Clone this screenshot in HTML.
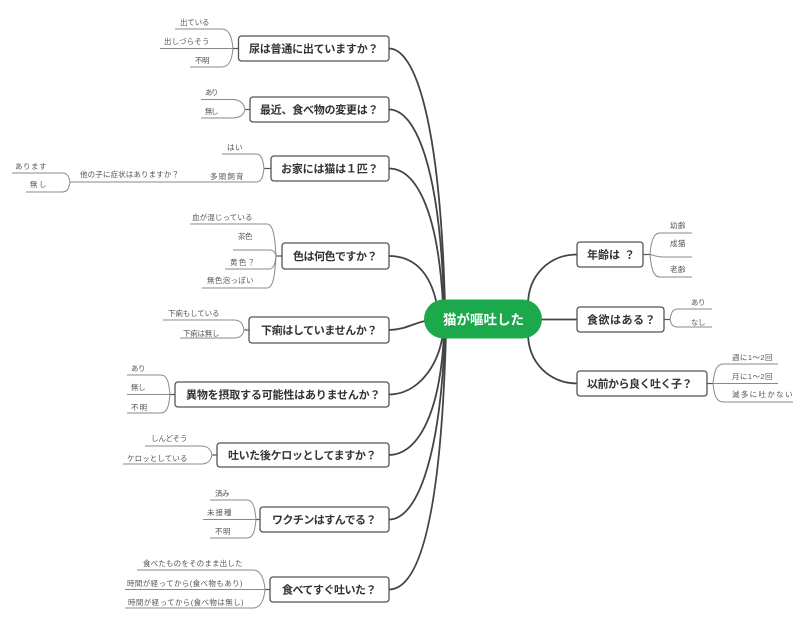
<!DOCTYPE html>
<html>
<head>
<meta charset="utf-8">
<style>
html,body{margin:0;padding:0;background:#fff;}
svg{display:block;}
.bt{font-family:"Liberation Sans","Noto Sans CJK JP",sans-serif;font-size:11px;font-weight:bold;fill:#333;}
.lt{font-family:"Liberation Sans","Noto Sans CJK JP",sans-serif;font-size:7.5px;fill:#555;}
.box{fill:#fff;stroke:#555;stroke-width:1.3;}
.mc{fill:none;stroke:#444;stroke-width:1.8;}
.st{fill:none;stroke:#555;stroke-width:1.2;}
.lf{fill:none;stroke:#8a8a8a;stroke-width:1;}
</style>
</head>
<body>
<svg width="800" height="621" viewBox="0 0 800 621" xmlns="http://www.w3.org/2000/svg">
<rect width="800" height="621" fill="#fff"/>

<!-- main connectors left top -->
<path class="mc" d="M389,48.5 C415,48.5 440,120 445,305"/>
<path class="mc" d="M389,109.5 C415,109.5 440,165 444,305"/>
<path class="mc" d="M389,168.5 C415,168.5 438,208 443,305"/>
<path class="mc" d="M389,256 C412,256 430,270 437,305"/>
<path class="mc" d="M389,330 C405,330 415,322 430,320"/>
<!-- main connectors left bottom -->
<path class="mc" d="M389,394.5 C415,394.5 438,370 443,333"/>
<path class="mc" d="M389,455 C415,455 440,420 444,333"/>
<path class="mc" d="M389,519.5 C415,519.5 440,465 445,333"/>
<path class="mc" d="M389,589.5 C420,589.5 441,515 446,333"/>
<!-- main connectors right -->
<path class="mc" d="M528,305 C528,274.6 550,254.5 577,254.5"/>
<path class="mc" d="M535,319.5 L577,319.5"/>
<path class="mc" d="M528,333 C528,363 550,383.5 577,383.5"/>

<!-- center -->
<rect x="424" y="299.5" width="118" height="39" rx="19.5" fill="#1ba94c"/>
<text x="443" y="324.5" font-family="Liberation Sans,Noto Sans CJK JP,sans-serif" font-size="13.5" font-weight="bold" fill="#fff" textLength="81" lengthAdjust="spacing">猫が嘔吐した</text>

<!-- boxes left -->
<rect class="box" x="238.5" y="36" width="150.5" height="25" rx="3"/>
<text class="bt" x="249" y="52.5" textLength="129.5" lengthAdjust="spacing">尿は普通に出ていますか？</text>
<rect class="box" x="250" y="97" width="139" height="25" rx="3"/>
<text class="bt" x="260" y="113.5" textLength="118.5" lengthAdjust="spacing">最近、食べ物の変更は？</text>
<rect class="box" x="271" y="156" width="118" height="25" rx="3"/>
<text class="bt" x="281" y="172.5" textLength="97.5" lengthAdjust="spacing">お家には猫は１匹？</text>
<rect class="box" x="282" y="243" width="107" height="26" rx="3"/>
<text class="bt" x="293" y="260" textLength="84.5" lengthAdjust="spacing">色は何色ですか？</text>
<rect class="box" x="249" y="317" width="140" height="26" rx="3"/>
<text class="bt" x="261" y="334" textLength="116.5" lengthAdjust="spacing">下痢はしていませんか？</text>
<rect class="box" x="175" y="382" width="214" height="25" rx="3"/>
<text class="bt" x="186" y="398.5" textLength="194.5" lengthAdjust="spacing">異物を摂取する可能性はありませんか？</text>
<rect class="box" x="217" y="443" width="172" height="24" rx="3"/>
<text class="bt" x="228" y="459" textLength="148.5" lengthAdjust="spacing">吐いた後ケロッとしてますか？</text>
<rect class="box" x="260" y="507" width="129" height="25" rx="3"/>
<text class="bt" x="272" y="523.5" textLength="104.5" lengthAdjust="spacing">ワクチンはすんでる？</text>
<rect class="box" x="270" y="577" width="119" height="25" rx="3"/>
<text class="bt" x="282" y="593.5" textLength="94.5" lengthAdjust="spacing">食べてすぐ吐いた？</text>

<!-- boxes right -->
<rect class="box" x="577" y="242" width="66" height="25" rx="3"/>
<text class="bt" x="587" y="258.5">年齢は</text>
<text class="bt" x="624" y="258.5">？</text>
<rect class="box" x="577" y="307" width="87" height="25" rx="3"/>
<text class="bt" x="587" y="323.5" textLength="68.5" lengthAdjust="spacing">食欲はある？</text>
<rect class="box" x="577" y="371" width="130" height="25" rx="3"/>
<text class="bt" x="587" y="387.5" textLength="105.5" lengthAdjust="spacing">以前から良く吐く子？</text>

<!-- ===== leaves: 尿 ===== -->
<path class="st" d="M233,48.5 L238.5,48.5"/>
<path class="lf" d="M175,29 L222,29 C229.5,29 232,37.8 233,48.5"/>
<path class="lf" d="M160,48.5 L233,48.5"/>
<path class="lf" d="M190,67 L222,67 C229.5,67 232,58.7 233,48.5"/>
<text class="lt" x="180" y="24.8" textLength="29.5" lengthAdjust="spacing">出ている</text>
<text class="lt" x="164" y="43.8" textLength="45.5" lengthAdjust="spacing">出しづらそう</text>
<text class="lt" x="195" y="62.8" textLength="14.5" lengthAdjust="spacing">不明</text>

<!-- 最近 -->
<path class="st" d="M245,109.5 L250,109.5"/>
<path class="lf" d="M201,99.5 L232,99.5 C240.5,99.5 244,104 245,109.5"/>
<path class="lf" d="M201,118 L232,118 C240.5,118 244,114.2 245,109.5"/>
<text class="lt" x="205" y="94.8" textLength="13.5" lengthAdjust="spacing">あり</text>
<text class="lt" x="205" y="113.8" textLength="13.5" lengthAdjust="spacing">無し</text>

<!-- お家 -->
<path class="st" d="M264,168.5 L271,168.5"/>
<path class="lf" d="M222,154 L256,154 C262,154 263,160.5 264,168.5"/>
<path class="lf" d="M70,182 L256,182 C262,182 263,175.9 264,168.5"/>
<path class="lf" d="M12,173 L62,173 C68,173 69,177 70,182"/>
<path class="lf" d="M26,192 L62,192 C68,192 69,187.5 70,182"/>
<text class="lt" x="227" y="149.8" textLength="15.5" lengthAdjust="spacing">はい</text>
<text class="lt" x="210" y="178.8" textLength="33.5" lengthAdjust="spacing">多頭飼育</text>
<text class="lt" x="80" y="176.8" textLength="99" lengthAdjust="spacing">他の子に症状はありますか？</text>
<text class="lt" x="15" y="168.8" textLength="31.5" lengthAdjust="spacing">あります</text>
<text class="lt" x="30" y="186.8" textLength="16.5" lengthAdjust="spacing">無し</text>

<!-- 色 -->
<path class="st" d="M276,256 L282,256"/>
<path class="lf" d="M190,224 L267,224 C273.5,224 275,238.4 276,256"/>
<path class="lf" d="M233,250 L269,250 C274.5,250 275,252.7 276,256"/>
<path class="lf" d="M225,269 L269,269 C274.5,269 275,263.2 276,256"/>
<path class="lf" d="M202,288 L267,288 C273.5,288 275,273.6 276,256"/>
<text class="lt" x="192" y="219.8" textLength="60.5" lengthAdjust="spacing">血が混じっている</text>
<text class="lt" x="238" y="238.8" textLength="14.5" lengthAdjust="spacing">茶色</text>
<text class="lt" x="230" y="264.8" textLength="25" lengthAdjust="spacing">黄色？</text>
<text class="lt" x="207" y="282.8" textLength="46.5" lengthAdjust="spacing">無色泡っぽい</text>

<!-- 下痢 -->
<path class="st" d="M244,330 L249,330"/>
<path class="lf" d="M163,320 L234,320 C241,320 243,324.5 244,330"/>
<path class="lf" d="M180,338 L234,338 C241,338 243,334.4 244,330"/>
<text class="lt" x="168" y="315.8" textLength="51.5" lengthAdjust="spacing">下痢もしている</text>
<text class="lt" x="183" y="335.8" textLength="36.5" lengthAdjust="spacing">下痢は無し</text>

<!-- 異物 -->
<path class="st" d="M170,394.5 L175,394.5"/>
<path class="lf" d="M127,375 L161,375 C167.5,375 169,383.8 170,394.5"/>
<path class="lf" d="M127,394.5 L170,394.5"/>
<path class="lf" d="M127,413 L161,413 C167.5,413 169,404.7 170,394.5"/>
<text class="lt" x="131" y="370.8" textLength="14.5" lengthAdjust="spacing">あり</text>
<text class="lt" x="131" y="389.8" textLength="14.5" lengthAdjust="spacing">無し</text>
<text class="lt" x="131" y="409.8" textLength="16" lengthAdjust="spacing">不明</text>

<!-- 吐いた後 -->
<path class="st" d="M212,455 L217,455"/>
<path class="lf" d="M145,446 L201,446 C208.5,446 211,450 212,455"/>
<path class="lf" d="M123,464 L201,464 C208.5,464 211,460 212,455"/>
<text class="lt" x="151" y="440.8" textLength="36.5" lengthAdjust="spacing">しんどそう</text>
<text class="lt" x="127" y="460.8" textLength="60.5" lengthAdjust="spacing">ケロッとしている</text>

<!-- ワクチン -->
<path class="st" d="M256,519.5 L260,519.5"/>
<path class="lf" d="M210,500 L247,500 C253.5,500 255,508.8 256,519.5"/>
<path class="lf" d="M203,519.5 L256,519.5"/>
<path class="lf" d="M210,538 L247,538 C253.5,538 255,529.7 256,519.5"/>
<text class="lt" x="215" y="495.8" textLength="14.5" lengthAdjust="spacing">済み</text>
<text class="lt" x="207" y="514.8" textLength="24.5" lengthAdjust="spacing">未接種</text>
<text class="lt" x="215" y="533.8" textLength="15.5" lengthAdjust="spacing">不明</text>

<!-- 食べて -->
<path class="st" d="M265,589.5 L270,589.5"/>
<path class="lf" d="M137,570 L253,570 C261,570 264,578.8 265,589.5"/>
<path class="lf" d="M125,589.5 L265,589.5"/>
<path class="lf" d="M125,608 L253,608 C261,608 264,599.7 265,589.5"/>
<text class="lt" x="143" y="565.8" textLength="99.5" lengthAdjust="spacing">食べたものをそのまま出した</text>
<text class="lt" x="127" y="585.8" textLength="115.5" lengthAdjust="spacing">時間が経ってから(食べ物もあり)</text>
<text class="lt" x="128" y="604.8" textLength="115.5" lengthAdjust="spacing">時間が経ってから(食べ物は無し)</text>

<!-- ===== right leaves ===== -->
<path class="st" d="M643,254.5 L650,254.5"/>
<path class="lf" d="M650,254.5 C651,242.7 653,233 660,233 L692,233"/>
<path class="lf" d="M650,254.5 C654,255 656,257 662,257 L692,257"/>
<path class="lf" d="M650,254.5 C651,266.9 653,277 660,277 L692,277"/>
<text class="lt" x="670" y="227.8" textLength="15.5" lengthAdjust="spacing">幼齢</text>
<text class="lt" x="670" y="245.8" textLength="15.5" lengthAdjust="spacing">成猫</text>
<text class="lt" x="670" y="271.8" textLength="15.5" lengthAdjust="spacing">老齢</text>

<path class="st" d="M664,319.5 L670,319.5"/>
<path class="lf" d="M670,319.5 C671,313.7 672,309 678,309 L712,309"/>
<path class="lf" d="M670,319.5 C671,323.6 672,327 678,327 L712,327"/>
<text class="lt" x="691" y="304.8" textLength="14.5" lengthAdjust="spacing">あり</text>
<text class="lt" x="691" y="324.8" textLength="14.5" lengthAdjust="spacing">なし</text>

<path class="st" d="M707,383.5 L713,383.5"/>
<path class="lf" d="M713,383.5 C714,372.8 716,364 723,364 L778,364"/>
<path class="lf" d="M713,383.5 L778,383.5"/>
<path class="lf" d="M713,383.5 C714,393.7 716,402 723,402 L793,402"/>
<text class="lt" x="732" y="359.8" textLength="40.5" lengthAdjust="spacing">週に1〜2回</text>
<text class="lt" x="732" y="378.8" textLength="40.5" lengthAdjust="spacing">月に1〜2回</text>
<text class="lt" x="732" y="396.8" textLength="60.5" lengthAdjust="spacing">滅多に吐かない</text>
</svg>
</body>
</html>
